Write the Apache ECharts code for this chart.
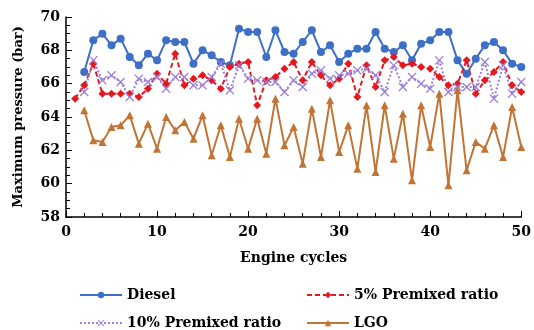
<!DOCTYPE html>
<html>
<head>
<meta charset="utf-8">
<script src="https://cdn.jsdelivr.net/npm/echarts@6/dist/echarts.min.js"></script>
<style>
  html, body { margin: 0; padding: 0; background: #fff; }
  #chart { width: 534px; height: 330px; }
</style>
</head>
<body>
<div id="chart"></div>
<script>
// engine cycles 1..50 (null = no point at that cycle)
const cycles = Array.from({ length: 50 }, (_, i) => i + 1);

const diesel = [null, 66.7, 68.6, 69.0, 68.3, 68.7, 67.6, 67.1, 67.8, 67.4,
  68.6, 68.5, 68.5, 67.2, 68.0, 67.7, 67.3, 67.1, 69.3, 69.1,
  69.1, 67.6, 69.2, 67.9, 67.8, 68.5, 69.2, 67.9, 68.3, 67.3,
  67.8, 68.1, 68.1, 69.1, 68.1, 67.9, 68.3, 67.4, 68.4, 68.6,
  69.1, 69.1, 67.4, 66.6, 67.5, 68.3, 68.5, 68.0, 67.2, 67.0];

const premix5 = [65.1, 65.9, 67.2, 65.4, 65.4, 65.4, 65.4, 65.2, 65.7, 66.6,
  66.0, 67.8, 65.9, 66.3, 66.5, 66.2, 65.7, 67.0, 67.2, 67.3,
  64.7, 66.2, 66.4, 66.9, 67.3, 66.2, 67.3, 66.5, 65.9, 66.3,
  67.2, 65.2, 67.1, 65.8, 67.4, 67.6, 67.1, 67.2, 67.0, 66.9,
  66.4, 65.9, 66.0, 67.4, 65.4, 66.2, 66.7, 67.3, 65.9, 65.5];

const premix10 = [null, 65.5, 67.4, 66.2, 66.5, 66.1, 65.2, 66.3, 66.1, 66.4,
  65.7, 66.4, 66.4, 65.9, 65.9, 66.4, 67.2, 65.6, 67.1, 66.3,
  66.2, 66.1, 66.1, 65.5, 66.2, 65.8, 66.6, 66.8, 66.3, 66.5,
  66.6, 66.8, 66.9, 66.5, 65.5, 67.1, 65.8, 66.4, 66.0, 65.7,
  67.4, 65.5, 65.8, 65.8, 65.8, 67.3, 65.1, 67.1, 65.4, 66.1];

const lgo = [null, 64.4, 62.6, 62.5, 63.4, 63.5, 64.1, 62.4, 63.6, 62.1,
  64.0, 63.2, 63.7, 62.7, 64.1, 61.7, 63.5, 61.6, 63.9, 62.1,
  63.9, 61.8, 65.1, 62.3, 63.4, 61.2, 64.5, 61.6, 65.0, 61.9,
  63.5, 60.9, 64.7, 60.7, 64.7, 61.5, 64.2, 60.2, 64.7, 62.2,
  65.4, 59.9, 65.6, 60.8, 62.5, 62.1, 63.5, 61.6, 64.6, 62.2];

const seriesNames = ['Diesel', '5% Premixed ratio', '10% Premixed ratio', 'LGO'];

const pairs = (vals) => cycles.map((c, i) => [c, vals[i]]).filter(p => p[1] != null);

const font = 'DejaVu Serif';
const crossPath = 'path://M0,1L1,0L5,4L9,0L10,1L6,5L10,9L9,10L5,6L1,10L0,9L4,5Z';

const chart = echarts.init(document.getElementById('chart'));

const legendText = { fontFamily: font, fontWeight: 'bold', fontSize: 14, color: '#000' };
// one legend per item so the 2x2 layout is fixed
const legendAt = (name, left, top) => ({
  data: [name], left: left, top: top, itemWidth: 42, itemHeight: 8,
  textStyle: legendText
});

chart.setOption({
  animation: false,
  grid: { left: 66, right: 6, top: 17, bottom: 113 },
  legend: [
    legendAt(seriesNames[0], 74, 283),
    legendAt(seriesNames[1], 301, 283),
    legendAt(seriesNames[2], 74, 311),
    legendAt(seriesNames[3], 301, 311)
  ],
  xAxis: {
    type: 'value', min: 0, max: 50, interval: 10,
    name: 'Engine cycles', nameLocation: 'middle', nameGap: 34,
    nameTextStyle: { fontFamily: font, fontWeight: 'bold', fontSize: 14, color: '#000' },
    axisLine: { lineStyle: { color: '#000', width: 1.5 } },
    axisTick: { inside: true, length: 6, lineStyle: { color: '#000' } },
    minorTick: { show: true, splitNumber: 5, length: 4, lineStyle: { color: '#000' } },
    axisLabel: { margin: 8, fontFamily: font, fontWeight: 'bold', fontSize: 14, color: '#000' },
    splitLine: { show: false }
  },
  yAxis: {
    type: 'value', min: 58, max: 70, interval: 2,
    name: 'Maximum pressure (bar)', nameLocation: 'middle', nameGap: 41,
    nameTextStyle: { fontFamily: font, fontWeight: 'bold', fontSize: 13, color: '#000' },
    axisLine: { show: true, lineStyle: { color: '#000', width: 1.5 } },
    axisTick: { show: true, inside: true, length: 6, lineStyle: { color: '#000' } },
    minorTick: { show: true, splitNumber: 4, length: 4, lineStyle: { color: '#000' } },
    axisLabel: { margin: 6, fontFamily: font, fontWeight: 'bold', fontSize: 14, color: '#000' },
    splitLine: { show: false }
  },
  series: [
    {
      name: seriesNames[0], type: 'line', data: pairs(diesel),
      symbol: 'circle', symbolSize: 8,
      itemStyle: { color: '#3d6fc6' },
      lineStyle: { color: '#3d6fc6', width: 2 }
    },
    {
      name: seriesNames[1], type: 'line', data: pairs(premix5),
      symbol: 'diamond', symbolSize: 8,
      itemStyle: { color: '#e5171f' },
      lineStyle: { color: '#e5171f', width: 2, type: [5, 3] }
    },
    {
      name: seriesNames[2], type: 'line', data: pairs(premix10),
      symbol: crossPath, symbolSize: 9,
      itemStyle: { color: '#9c7fd6' },
      lineStyle: { color: '#9c7fd6', width: 2, type: [2, 2] }
    },
    {
      name: seriesNames[3], type: 'line', data: pairs(lgo),
      symbol: 'triangle', symbolSize: 8,
      itemStyle: { color: '#c17434' },
      lineStyle: { color: '#c17434', width: 2 }
    }
  ]
});
</script>
</body>
</html>
